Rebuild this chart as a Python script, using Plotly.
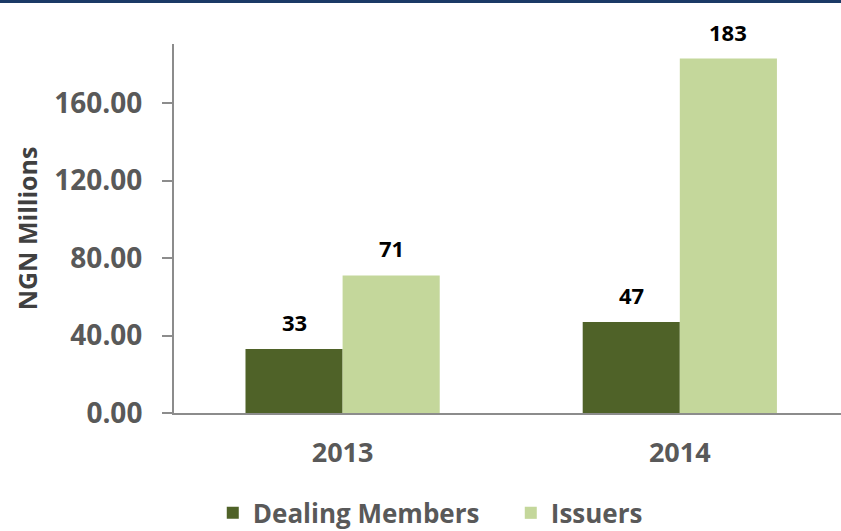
import plotly.graph_objects as go

years = ["2013", "2014"]
dealing_members = [33, 47]
issuers = [71, 183]
y_ticks = [0, 40, 80, 120, 160]
y_tick_labels = ["0.00", "40.00", "80.00", "120.00", "160.00"]

FONT = "'Open Sans', Lato, sans-serif"
GRAY = "#595959"
x_pos = list(range(len(years)))

fig = go.Figure()
fig.add_trace(go.Bar(x=x_pos, y=dealing_members, name="Dealing Members",
                     marker=dict(color="#4F6228", line=dict(width=0))))
fig.add_trace(go.Bar(x=x_pos, y=issuers, name="Issuers",
                     marker=dict(color="#C4D79B", line=dict(width=0))))

off = 0.144
for i, v in enumerate(dealing_members):
    fig.add_annotation(x=x_pos[i] - off, y=v, text=f"<b>{v}</b>", showarrow=False,
                       yanchor="bottom", yshift=10, font=dict(family=FONT, size=22, color="#000000"))
for i, v in enumerate(issuers):
    fig.add_annotation(x=x_pos[i] + off, y=v, text=f"<b>{v}</b>", showarrow=False,
                       yanchor="bottom", yshift=10, font=dict(family=FONT, size=22, color="#000000"))

fig.add_shape(type="rect", xref="paper", yref="paper", x0=-0.3, x1=1.05, y0=1.111, y1=1.125,
              fillcolor="#1B3A66", line=dict(width=0), layer="above")

fig.update_layout(
    width=841, height=531,
    margin=dict(l=174, r=0, t=44, b=118),
    paper_bgcolor="white", plot_bgcolor="white",
    barmode="group", bargap=0.424, bargroupgap=0,
    font=dict(family=FONT, color=GRAY),
    showlegend=True,
    legend=dict(orientation="h", xref="container", yref="container",
                x=0.253, xanchor="left", y=0.034, yanchor="middle",
                font=dict(family=FONT, size=26, color=GRAY, weight="bold"),
                itemwidth=30, entrywidth=253, traceorder="normal"),
    xaxis=dict(range=[-0.5, 1.478], tickvals=x_pos, ticktext=years,
               tickfont=dict(family=FONT, size=27, color=GRAY, weight="bold"),
               showline=True, linecolor="#8C8C8C", linewidth=2,
               ticks="", showgrid=False, zeroline=False, fixedrange=True, ticklabelstandoff=15),
    yaxis=dict(range=[0, 190.5], tickvals=y_ticks, ticktext=y_tick_labels,
               tickfont=dict(family=FONT, size=28, color=GRAY, weight="bold"),
               showline=True, linecolor="#8C8C8C", linewidth=2,
               ticks="outside", ticklen=10, tickcolor="#8C8C8C", tickwidth=2,
               ticklabelstandoff=14,
               showgrid=False, zeroline=False,
               title=dict(text="NGN Millions", standoff=10,
                          font=dict(family=FONT, size=25, color="#404040", weight="bold"))),
)

fig.write_html("out.html")
